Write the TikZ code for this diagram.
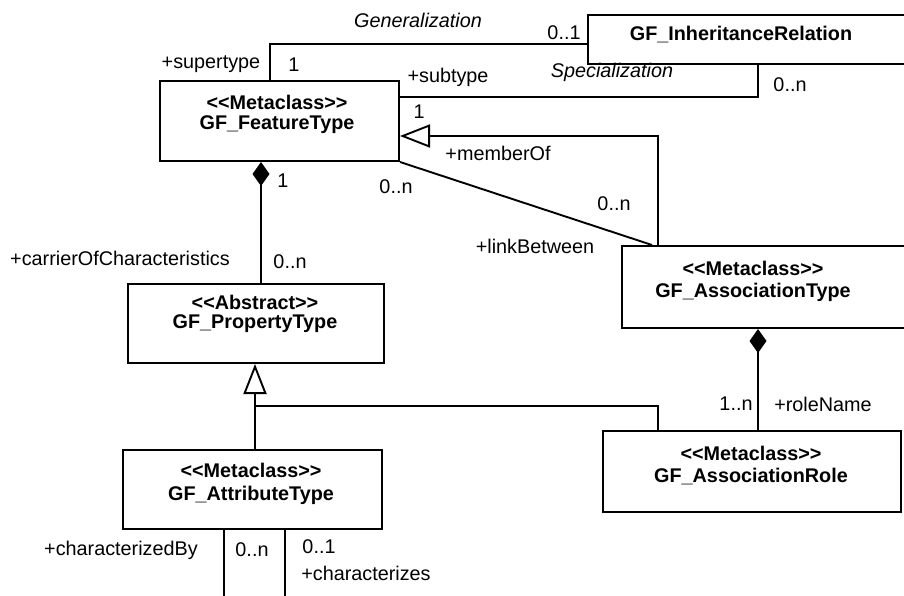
\documentclass[tikz,border=0pt]{standalone}
\usepackage{fontspec}
\setmainfont{Liberation Sans}[Ligatures=TeXOff]
\usetikzlibrary{arrows.meta,calc}
\newcommand{\stereo}[1]{<\kern0pt<#1>\kern0pt>}
\begin{document}
\begin{tikzpicture}[x=1pt,y=-1pt,
  line width=1.9pt,
  box/.style={draw,line width=2pt,anchor=north west,inner sep=0pt},
  cname/.style={font=\fontsize{19.8}{23}\selectfont\bfseries,inner sep=0pt},
  lbl/.style={font=\fontsize{19.8}{23}\selectfont,inner sep=0pt},
  ilbl/.style={font=\fontsize{19.8}{23}\selectfont\itshape,inner sep=0pt},
  comp/.style={{Diamond[length=24pt,width=17pt]}-},
  gen/.style={-{Triangle[open,length=30pt,width=23pt]}}]
\clip (0,0) rectangle (904,596);

% class boxes
\node[box,minimum width=239pt,minimum height=80pt] (ft) at (159,80) {};
\node[cname] (fts) at (277,102) {\stereo{Metaclass}};
\node[cname] (ftn) at (277,125) {GF\_FeatureType};

\node[box,minimum width=333pt,minimum height=49pt] (ir) at (587,14) {};
\node[cname] (irn) at (741,35) {GF\_InheritanceRelation};

\node[box,minimum width=256pt,minimum height=79pt] (pt) at (127,283) {};
\node[cname] (pts) at (255,302) {\stereo{Abstract}};
\node[cname] (ptn) at (255,324) {GF\_PropertyType};

\node[box,minimum width=299pt,minimum height=82pt] (at) at (621,245) {};
\node[cname] (ats) at (753,268) {\stereo{Metaclass}};
\node[cname] (atn) at (753,292) {GF\_AssociationType};

\node[box,minimum width=298pt,minimum height=81pt] (ar) at (602,430) {};
\node[cname] (ars) at (751,453) {\stereo{Metaclass}};
\node[cname] (arn) at (751,477) {GF\_AssociationRole};

\node[box,minimum width=259pt,minimum height=79pt] (att) at (122,449) {};
\node[cname] (atts) at (251,470) {\stereo{Metaclass}};
\node[cname] (attn) at (251,495) {GF\_AttributeType};

% free ends
\coordinate (j) at (255,406);
\coordinate (e1) at (224,600);
\coordinate (e2) at (285,600);

% connectors
\draw ([xshift=111pt]ft.north west) |- ([yshift=-4.5pt]ir.west);
\draw ([yshift=-17pt]ft.north east) -| ([xshift=171pt]ir.south west);
\draw[gen] ([xshift=37pt]at.north west) |- ([yshift=-56pt]ft.north east);
\draw (ft.south east) -- ([xshift=31pt]at.north west);
\draw[comp] ([xshift=102pt]ft.south west) -- ([xshift=134pt]pt.north west);
\draw[comp] ([xshift=137pt]at.south west) -- ([xshift=156pt]ar.north west);
\draw[gen] ([xshift=133pt]att.north west) -- ([xshift=128pt]pt.south west);
\draw ([xshift=56pt]ar.north west) |- (j);
\draw ([xshift=102pt]att.south west) -- (e1);
\draw ([xshift=163pt]att.south west) -- (e2);

% labels
\node[ilbl] (l1) at (418,20) {Generalization};
\node[lbl] (l2) at (564,33) {0..1};
\node[lbl] (l3) at (211,64) {+supertype};
\node[lbl] (l4) at (294,65) {1};
\node[lbl] (l5) at (448,77) {+subtype};
\node[ilbl] (l6) at (612,72) {Specialization};
\node[lbl] (l7) at (790,85) {0..n};
\node[lbl] (l8) at (419,112) {1};
\node[lbl] (l9) at (498,153) {+memberOf};
\node[lbl] (l10) at (396,187) {0..n};
\node[lbl] (l11) at (614,204) {0..n};
\node[lbl] (l12) at (535,246) {+linkBetween};
\node[lbl] (l13) at (283,181) {1};
\node[lbl] (l14) at (290,262) {0..n};
\node[lbl] (l15) at (120,258) {+carrierOfCharacteristics};
\node[lbl] (l16) at (736,404) {1..n};
\node[lbl] (l17) at (823,404) {+roleName};
\node[lbl] (l18) at (121,550) {+characterizedBy};
\node[lbl] (l19) at (252,550) {0..n};
\node[lbl] (l20) at (319,547) {0..1};
\node[lbl] (l21) at (366,573) {+characterizes};
\end{tikzpicture}
\end{document}
